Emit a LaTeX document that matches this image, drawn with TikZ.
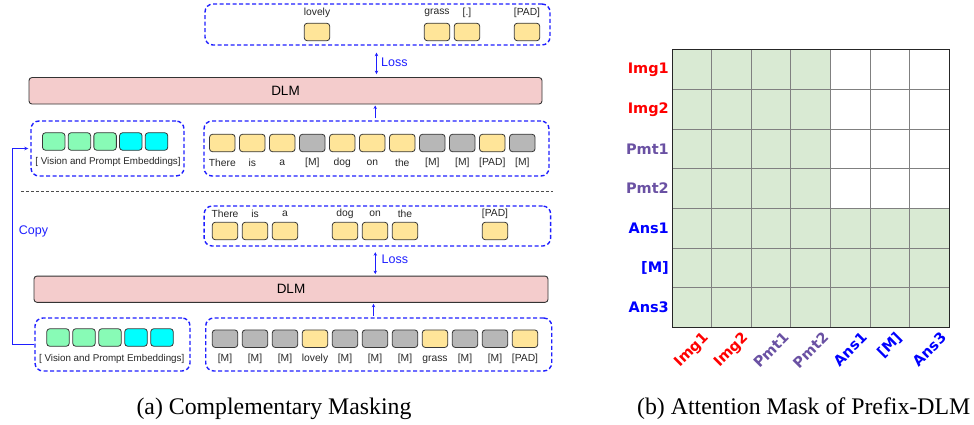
\documentclass[tikz,border=0pt]{standalone}
\usepackage{fontspec}
\usepackage{graphicx}
\setmainfont{Liberation Sans}
\newfontfamily\capfont{Liberation Serif}
\newfontfamily\maskfont{DejaVu Sans}
\usetikzlibrary{arrows.meta,positioning}

\definecolor{tokyellow}{HTML}{FFE599}
\definecolor{tokgray}{HTML}{B7B7B7}
\definecolor{tokmint}{HTML}{88FBB6}
\definecolor{tokcyan}{HTML}{00FFFF}
\definecolor{dlmpink}{HTML}{F4CCCC}
\definecolor{boxblue}{HTML}{1F1FFF}
\definecolor{maskgreen}{HTML}{D9EAD3}
\definecolor{imgred}{HTML}{FF0000}
\definecolor{pmtpurple}{HTML}{6A51A3}
\definecolor{ansblue}{HTML}{0000FF}

\tikzset{
  tok/.style={draw=black!78, line width=0.8pt, rounded corners=3pt, minimum width=25.5pt, minimum height=17.5pt, inner sep=0pt},
  yel/.style={tok, fill=tokyellow},
  gry/.style={tok, fill=tokgray},
  mnt/.style={tok, fill=tokmint, minimum width=22.5pt},
  cyn/.style={tok, fill=tokcyan, minimum width=22.5pt},
  word/.style={font=\fontsize{10.3}{12}\selectfont, text=black!85, inner sep=0pt},
  grp/.style={draw=boxblue, line width=1.4pt, dash pattern=on 4pt off 2.5pt, rounded corners=8pt, inner sep=0pt},
  dlm/.style={draw=black!80, line width=0.9pt, fill=dlmpink, rounded corners=3pt, font=\fontsize{13.5}{15}\selectfont},
  bluearr/.style={draw=boxblue, line width=0.9pt},
  bluetxt/.style={text=boxblue, font=\fontsize{12.5}{14}\selectfont, inner sep=0pt},
  masklab/.style={font=\maskfont\bfseries\fontsize{14.5}{16}\selectfont, inner sep=0pt},
}

\begin{document}
\begin{tikzpicture}[x=1pt, y=-1pt]
    \useasboundingbox (0,0) rectangle (974,425);

    % Draw dashed groups and DLM blocks
    \node[grp, minimum width=345pt, minimum height=41pt] (topout) at (377.5,24.5) {};
    \node[dlm, minimum width=513pt, minimum height=26.5pt] (dlmtop) at (285.5,90.8) {DLM};
    \node[grp, minimum width=153pt, minimum height=55pt] (vistop) at (107.5,148.5) {};
    \node[grp, minimum width=345pt, minimum height=55pt] (txttop) at (376.5,148.5) {};
    \node[grp, minimum width=346.5pt, minimum height=40pt] (midout) at (377.4,226) {};
    \node[dlm, minimum width=514pt, minimum height=26.3pt] (dlmbot) at (291,289.2) {DLM};
    \node[grp, minimum width=155pt, minimum height=53pt] (visbot) at (112.5,344.5) {};
    \node[grp, minimum width=346pt, minimum height=53pt] (txtbot) at (378.7,344.5) {};

    % Draw the separator
    \draw[black!70, line width=0.7pt, dash pattern=on 3pt off 2pt] (21,191) -- (553,191);

    % Top row: predicted tokens
    \foreach \p/\w in {3/lovely, 7/grass, 8/{[.]}, 10/{[PAD]}} {
        \node[yel] (to\p) at ({227+30*\p},32) {};
        \node[word] (tow\p) at ({227+30*\p},13) {\w};
    }

    % Top row: masked input
    \foreach \w/\c [count=\i from 0] in {There/yel, is/yel, a/yel, {[M]}/gry, dog/yel, on/yel, the/yel, {[M]}/gry, {[M]}/gry, {[PAD]}/yel, {[M]}/gry} {
        \node[\c] (tt\i) at ({222.3+30*\i},143) {};
        \node[word] (ttw\i) at ({222.3+30*\i},163) {\w};
    }

    % Vision and prompt embeddings
    \foreach \c [count=\i from 0] in {mnt, mnt, mnt, cyn, cyn} {
        \node[\c] (vt\i) at ({53.7+25.7*\i},141.5) {};
        \node[\c] (vb\i) at ({58+26*\i},337.5) {};
    }
    \node[word, font=\fontsize{9.8}{12}\selectfont] (vtw) at (108,162) {[ Vision and Prompt Embeddings]};
    \node[word, font=\fontsize{9.8}{12}\selectfont] (vbw) at (111.7,359) {[ Vision and Prompt Embeddings]};

    % Middle row: predicted tokens
    \foreach \p/\w in {0/There, 1/is, 2/a, 4/dog, 5/on, 6/the, 9/{[PAD]}} {
        \node[yel] (mo\p) at ({225+30*\p},231) {};
        \node[word] (mow\p) at ({225+30*\p},214) {\w};
    }

    % Bottom row: complementary masked input
    \foreach \w/\c [count=\i from 0] in {{[M]}/gry, {[M]}/gry, {[M]}/gry, lovely/yel, {[M]}/gry, {[M]}/gry, {[M]}/gry, grass/yel, {[M]}/gry, {[M]}/gry, {[PAD]}/yel} {
        \node[\c] (tb\i) at ({225+30*\i},338.7) {};
        \node[word] (tbw\i) at ({225+30*\i},359.3) {\w};
    }

    % Arrows
    \coordinate (ax1) at (376.5,0);
    \coordinate (ax2) at (375.2,0);
    \coordinate (ax3) at (375.3,0);
    \coordinate (ax4) at (373.5,0);
    \coordinate (cpx) at (12,0);
    \draw[bluearr, {Stealth[length=3.5pt,width=3.5pt]}-{Stealth[length=3.5pt,width=3.5pt]}, shorten <=7pt, shorten >=3pt] (topout.south -| ax1) -- (dlmtop.north -| ax1);
    \node[bluetxt, anchor=west] (losstop) at (381,62) {Loss};
    \draw[bluearr, -{Stealth[length=3.5pt,width=3.5pt]}, shorten <=2pt, shorten >=1pt] (txttop.north -| ax2) -- (dlmtop.south -| ax2);
    \draw[bluearr, {Stealth[length=3.5pt,width=3.5pt]}-{Stealth[length=3.5pt,width=3.5pt]}, shorten <=5.5pt, shorten >=1.5pt] (midout.south -| ax3) -- (dlmbot.north -| ax3);
    \node[bluetxt, anchor=west] (lossbot) at (381.5,259) {Loss};
    \draw[bluearr, -{Stealth[length=3.5pt,width=3.5pt]}, shorten <=1.5pt, shorten >=1pt] (txtbot.north -| ax4) -- (dlmbot.south -| ax4);

    % Copy connector
    \draw[bluearr, -{Stealth[length=4pt,width=3.5pt]}, shorten >=2pt] (visbot.west) -- (visbot.west -| cpx) -- (vistop.west -| cpx) -- (vistop.west);
    \node[bluetxt] (copy) at (33.5,231) {Copy};

    % Draw the attention mask
    \fill[maskgreen] (672,50) rectangle (830.3,208.3);
    \fill[maskgreen] (672,208.3) rectangle (949,327);
    \foreach \k in {1,...,6} {
        \draw[black!50, line width=0.7pt] ({672+39.57*\k},50) -- ({672+39.57*\k},327);
        \draw[black!50, line width=0.7pt] (672,{50+39.57*\k}) -- (949,{50+39.57*\k});
    }
    \draw[black!85, line width=1pt] (672,50) rectangle (949,327);

    % Row and column labels
    \foreach \t/\c [count=\k from 0] in {Img1/imgred, Img2/imgred, Pmt1/pmtpurple, Pmt2/pmtpurple, Ans1/ansblue, {[M]}/ansblue, Ans3/ansblue} {
        \node[masklab, text=\c, anchor=east] (row\k) at (669,{50+39.57*(\k+0.5)}) {\t};
        \node[masklab, text=\c, anchor=north] (col\k) at ({672+39.57*(\k+0.5)},331) {\rotatebox{45}{\t}};
    }

    % Captions
    \node[font=\capfont\fontsize{23.8}{26}\selectfont, anchor=base, inner sep=0pt] (capa) at (274,414) {(a) Complementary Masking};
    \node[font=\capfont\fontsize{23.8}{26}\selectfont, anchor=base, inner sep=0pt] (capb) at (803.7,414) {(b) Attention Mask of Prefix-DLM};

\end{tikzpicture}
\end{document}
